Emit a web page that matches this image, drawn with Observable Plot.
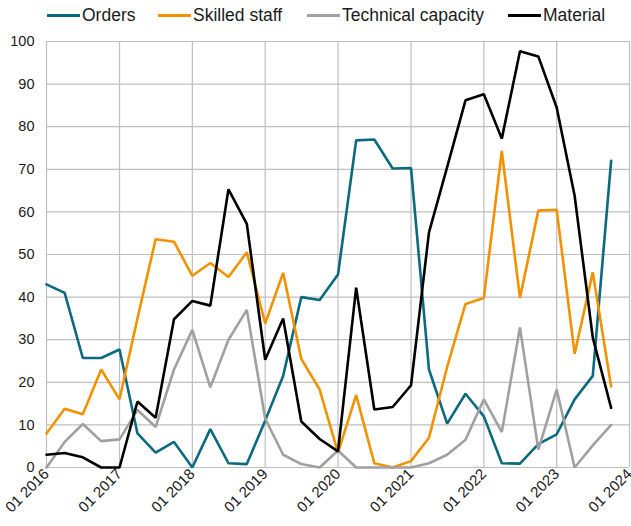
<!DOCTYPE html>
<html>
<head>
<meta charset="utf-8">
<script src="https://cdn.jsdelivr.net/npm/d3@7"></script>
<script src="https://cdn.jsdelivr.net/npm/@observablehq/plot@0.6"></script>
<style>
  body { margin: 0; background: #fff; font-family: "Liberation Sans", Arial, sans-serif; }
  #legend { position: relative; height: 30px; width: 631px; font-size: 17.5px; color: #1a1a1a; }
  .item { position: absolute; top: 0; height: 30px; display: flex; align-items: center; white-space: nowrap; }
  .sw { display: inline-block; width: 33px; height: 3px; margin-right: 2px; flex: none; }
</style>
</head>
<body>
<div id="legend"></div>
<div id="chart"></div>
<script>
const quarters = ["2016-01","2016-04","2016-07","2016-10","2017-01","2017-04","2017-07","2017-10",
  "2018-01","2018-04","2018-07","2018-10","2019-01","2019-04","2019-07","2019-10",
  "2020-01","2020-04","2020-07","2020-10","2021-01","2021-04","2021-07","2021-10",
  "2022-01","2022-04","2022-07","2022-10","2023-01","2023-04","2023-07","2023-10"];
const seriesNames = ["Orders", "Skilled staff", "Technical capacity", "Material"];
const orders = [43,41,25.7,25.7,27.7,8,3.5,6,0,9,1,0.8,11,21.5,40,39.3,45.3,76.8,77,70.2,70.3,23,10.3,17.3,12,1,0.9,5.5,7.8,16,21.5,72];
const skilledStaff = [8,13.8,12.5,23,16,35,53.6,53,45,48,44.7,50.5,33.8,45.7,25.5,18.3,3.5,17,1,0,1.5,7,23.6,38.4,39.8,74.3,39.8,60.3,60.5,26.7,45.8,19];
const technicalCapacity = [0,6,10.2,6.2,6.6,13.5,9.5,23,32.3,18.8,30,37,11.5,3,0.8,0,4,0,0,0,0,1,3,6.5,16,8.3,32.9,4.2,18.3,0,5.2,10];
const material = [3,3.4,2.4,0,0,15.5,11.7,34.8,39.1,38,65.3,57.2,25.3,35,10.8,6.7,3.8,42.2,13.6,14.2,19.3,55.2,70.5,86.2,87.6,77.2,97.7,96.5,84.5,63.8,30.5,14];
const yTicks = [0,10,20,30,40,50,60,70,80,90,100];
const xTickYears = [2016,2017,2018,2019,2020,2021,2022,2023,2024];
const colors = ["#0B6A80", "#F39200", "#A0A0A0", "#000000"];
const legendLeft = [47, 158, 307, 508];

const valuesBySeries = [orders, skilledStaff, technicalCapacity, material];
const parse = d3.utcParse("%Y-%m");
const data = [];
seriesNames.forEach((s, k) => {
  quarters.forEach((q, i) => data.push({series: s, date: parse(q), value: valuesBySeries[k][i]}));
});
const xTicks = xTickYears.map(y => new Date(Date.UTC(y, 0, 1)));

const legend = document.getElementById("legend");
seriesNames.forEach((s, k) => {
  const it = document.createElement("div");
  it.className = "item";
  it.style.left = legendLeft[k] + "px";
  it.innerHTML = `<span class="sw" style="background:${colors[k]}"></span><span>${s}</span>`;
  legend.appendChild(it);
});

const chart = Plot.plot({
  width: 631,
  height: 496,
  marginLeft: 46,
  marginRight: 2,
  marginTop: 11,
  marginBottom: 59,
  style: {fontFamily: "'Liberation Sans', Arial, sans-serif", fontSize: "15px", color: "#1a1a1a"},
  x: {type: "utc", domain: [xTicks[0], xTicks[xTicks.length - 1]]},
  y: {domain: [0, 100]},
  color: {domain: seriesNames, range: colors},
  marks: [
    Plot.gridY(yTicks, {stroke: "#bfbfbf", strokeOpacity: 1, strokeWidth: 1.2}),
    Plot.gridX(xTicks, {stroke: "#bfbfbf", strokeOpacity: 1, strokeWidth: 1.2}),
    Plot.axisY(yTicks, {tickSize: 0, tickPadding: 12, label: null, fontSize: 14.5}),
    Plot.axisX(xTicks, {tickSize: 0, tickPadding: 4, tickRotate: -45, label: null, fontSize: 15,
      tickFormat: d3.utcFormat("%m %Y")}),
    Plot.line(data, {x: "date", y: "value", z: "series", stroke: "series", strokeWidth: 2.6, strokeLinejoin: "miter"})
  ]
});
document.getElementById("chart").appendChild(chart);
</script>
</body>
</html>
